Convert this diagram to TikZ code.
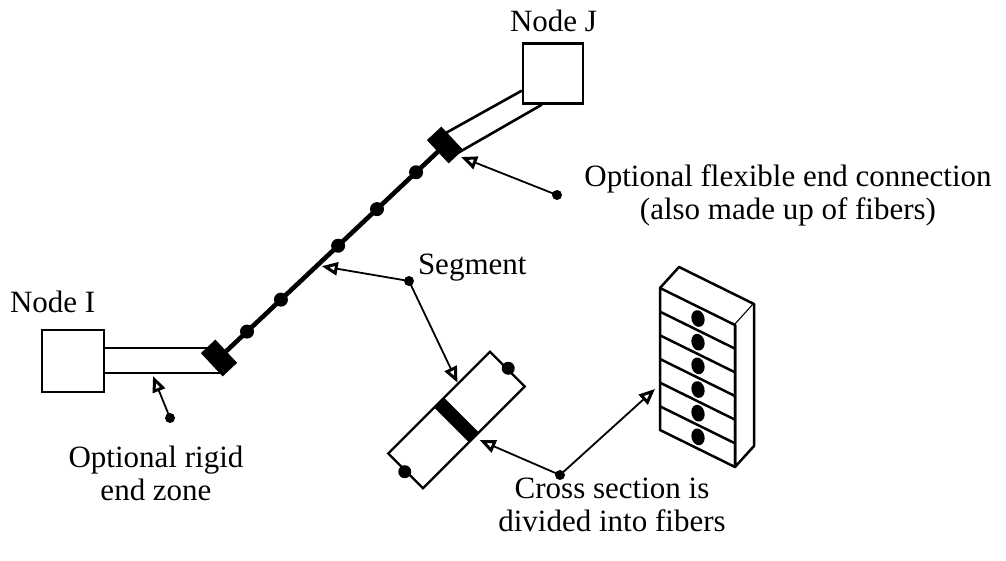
\documentclass[tikz,border=0pt]{standalone}
\usepackage{fontspec}
\setmainfont{Liberation Serif}
\usetikzlibrary{calc,arrows.meta,shapes.geometric}

\begin{document}
\begin{tikzpicture}[x=1pt,y=-1pt,
  lbl/.style={font=\fontsize{31}{33}\selectfont, inner sep=0pt, outer sep=0pt},
  nodebox/.style={draw, line width=2.3pt, fill=white, inner sep=0pt},
  zone/.style={line width=2.6pt},
  endblock/.style={draw, fill=black, line width=0.8pt, inner sep=0pt,
    minimum width=19pt, minimum height=31pt, rotate=43},
  beam/.style={line width=4.6pt},
  fiberdot/.style={circle, fill=black, inner sep=0pt, minimum size=14pt},
  tagdot/.style={circle, fill=black, inner sep=0pt, minimum size=10pt},
  callout/.style={line width=1.8pt,
    -{Triangle[open, length=16pt, width=13pt, line width=3pt]}},
  stack/.style={line width=2.5pt, line join=round},
  fiber/.style={ellipse, fill=black, inner sep=0pt,
    minimum width=13pt, minimum height=17pt, rotate=15}
]
\useasboundingbox (0,0) rectangle (1006,561);

% ---- end nodes -------------------------------------------------------
\node[nodebox, minimum size=62pt] (nI) at (73,361) {};
\node[nodebox, minimum size=60pt] (nJ) at (553,73.5) {};
\node[lbl, anchor=base west] (tI) at (10,312) {Node I};
\node[lbl, anchor=base west] (tJ) at (510,32) {Node J};

% ---- element axis, end blocks and the two end pieces -----------------
\coordinate (pI) at (219,358);
\coordinate (pJ) at (445,145);

% rigid end zone (Node I side)
\draw[zone] ($(nI.east)+(0,-13)$) -- (212,348);
\draw[zone] ($(nI.east)+(0,12)$) -- (220,373);

% flexible end connection (Node J side)
\draw[zone] (444,134) -- ($(nJ.south west)+(0,-14)$);
\draw[zone] (456,154) -- ($(nJ.south west)+(20,0)$);

\draw[beam] (pI) -- (pJ);
\node[endblock] (bI) at (pI) {};
\node[endblock] (bJ) at (pJ) {};

% integration points along the segment
\foreach \t/\n in {0.124/1, 0.274/2, 0.527/3, 0.699/4, 0.872/5}
  \node[fiberdot] (ip\n) at ($(pI)!\t!(pJ)$) {};

% ---- segment detail --------------------------------------------------
\node[draw, line width=2.3pt, inner sep=0pt, minimum width=144pt,
  minimum height=49pt, rotate=45] (det) at (456.5,420) {};
\node[fill=black, inner sep=0pt, minimum width=14pt, minimum height=49pt,
  rotate=45] (band) at (det.center) {};
\node[fiberdot, minimum size=13pt] (dE) at (det.east) {};
\node[fiberdot, minimum size=13pt] (dW) at (det.west) {};

% ---- cross section divided into fibers -------------------------------
\coordinate (ftl) at (660,288);
\coordinate (ftr) at (735,325);
\coordinate (fbl) at (660,430);
\coordinate (fbr) at (735,467);
\draw[stack, fill=white] (ftl) -- ++(19,-21) -- ($(ftr)+(19,-21)$) -- (ftr);
\draw[stack, fill=white] ($(ftr)+(19,-21)$) -- ($(fbr)+(19,-21)$) -- (fbr) -- (ftr);
\draw[stack] (ftl) -- (ftr) -- (fbr) -- (fbl) -- cycle;
\foreach \k in {1,...,5}
  \draw[stack] ($(ftl)!\k/6!(fbl)$) -- ($(ftr)!\k/6!(fbr)$);
\foreach \k in {0,...,5}
  \node[fiber] (fb\k) at ($($(ftl)!{(\k+0.5)/6}!(fbl)$)+(38,18.7)$) {};

% ---- callouts --------------------------------------------------------
\node[tagdot] (rigdot) at (170,418) {};
\coordinate (rigtip) at (153,376);
\draw[callout] (rigdot.center) -- (rigtip);
\node[lbl, anchor=north, align=center] (trig) at (156,446)
  {Optional rigid\\end zone};

\node[tagdot] (flexdot) at (557,195) {};
\coordinate (flextip) at (461,157);
\draw[callout] (flexdot.center) -- (flextip);
\node[lbl, anchor=north, align=center] (tflex) at (788,165)
  {Optional flexible end connection\\(also made up of fibers)};

\node[tagdot] (segdot) at (409,281) {};
\node[lbl, anchor=base west] (tseg) at (418,275) {Segment};
\coordinate (segtip) at ($(pI)!0.45!(pJ)+(1,4)$);
\coordinate (dettip) at ($(det.north)!0.37!(det.north east)$);
\draw[callout] (segdot.center) -- (segtip);
\draw[callout] (segdot.center) -- (dettip);

\node[tagdot] (xdot) at (560,475) {};
\coordinate (xtipA) at ($(det.south)+(5,2)$);
\coordinate (xtipB) at ($($(ftl)!0.711!(fbl)$)+(-5,0)$);
\draw[callout] (xdot.center) -- (xtipA);
\draw[callout] (xdot.center) -- (xtipB);
\node[lbl, anchor=north, align=center] (tx) at (612,478)
  {Cross section is\\divided into fibers};
\end{tikzpicture}
\end{document}
